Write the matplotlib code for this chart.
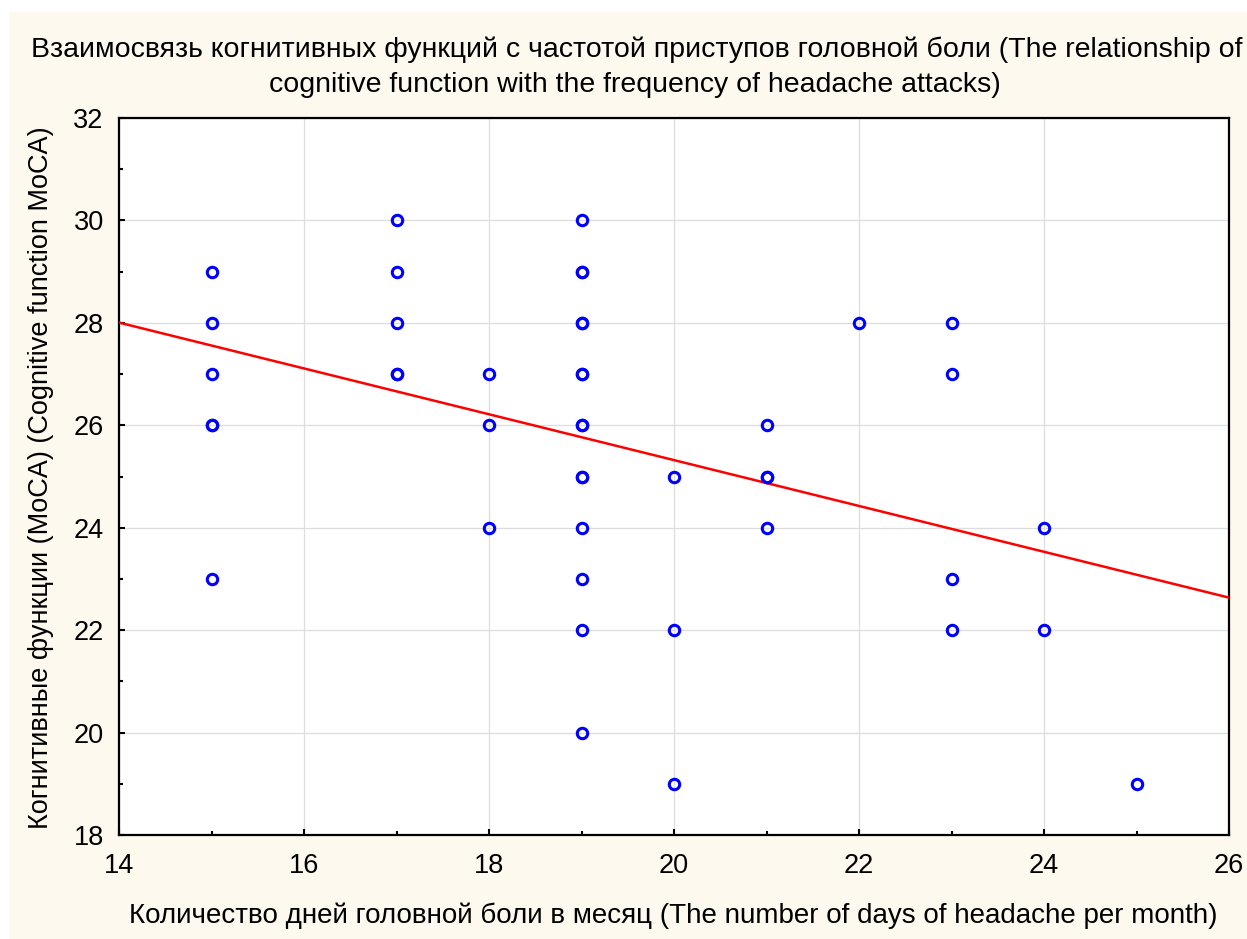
import matplotlib.pyplot as plt
import matplotlib.patches as mpatches
import numpy as np

plt.rcParams['font.family'] = ['Liberation Sans', 'DejaVu Sans']

# headache days per month vs MoCA score (duplicates kept where circles look bold)
days = [15, 15, 15, 15, 15, 15,
        17, 17, 17, 17, 17,
        18, 18, 18,
        19, 19, 19, 19, 19, 19, 19, 19, 19, 19, 19, 19, 19, 19, 19,
        20, 20, 20,
        21, 21, 21, 21,
        22,
        23, 23, 23, 23,
        24, 24,
        25]
moca = [29, 28, 27, 26, 26, 23,
        30, 29, 28, 27, 27,
        27, 26, 24,
        30, 29, 29, 28, 28, 27, 27, 26, 26, 25, 25, 24, 23, 22, 20,
        25, 22, 19,
        26, 25, 25, 24,
        28,
        28, 27, 23, 22,
        24, 22,
        19]

# regression line
fit_intercept = 34.27
fit_slope = -0.4475

fig = plt.figure(figsize=(12.47, 9.39), dpi=100)
fig.patches.append(mpatches.Rectangle((9/1247, 0), 1, 1 - 12/939, transform=fig.transFigure,
                                      facecolor='#fdf9ef', edgecolor='none', zorder=-10))
ax = fig.add_axes((119/1247, 1 - 835/939, 1110/1247, 717/939))
ax.set_facecolor('white')

xs = np.array([14, 26])
ax.plot(xs, fit_intercept + fit_slope*xs, '-', color='#ff0000', lw=1.8, zorder=3)
ax.plot(days, moca, 'o', mfc='none', mec='#0000ff', ms=7.5, mew=2.2, zorder=4, clip_on=False)

ax.set_xlim(14, 26)
ax.set_ylim(18, 32)
ax.set_xticks(np.arange(14, 27, 2))
ax.set_yticks(np.arange(18, 33, 2))
ax.set_xticks(np.arange(15, 26, 2), minor=True)
ax.set_yticks(np.arange(19, 32, 2), minor=True)
ax.tick_params(which='both', direction='in', length=4, width=1.5, labelsize=19.5)
ax.tick_params(axis='x', which='major', pad=13)
ax.tick_params(axis='y', which='major', pad=11)
ax.tick_params(which='minor', length=3)
ax.grid(which='major', color='#dddddd', lw=0.9)
ax.set_axisbelow(True)
for s in ax.spines.values():
    s.set_linewidth(1.6)

fig.text(637/1247, 1 - 50/939, 'Взаимосвязь когнитивных функций с частотой приступов головной боли (The relationship of',
         ha='center', va='center', fontsize=20.5)
fig.text(635/1247, 1 - 85/939, 'cognitive function with the frequency of headache attacks)',
         ha='center', va='center', fontsize=20.5)
fig.text(673/1247, 1 - 916/939, 'Количество дней головной боли в месяц (The number of days of headache per month)',
         ha='center', va='center', fontsize=20)
fig.text(41/1247, 1 - 478/939, 'Когнитивные функции (MoCA) (Cognitive function MoCA)',
         ha='center', va='center', rotation=90, fontsize=19.5)

fig.savefig('out.png', dpi=100)
